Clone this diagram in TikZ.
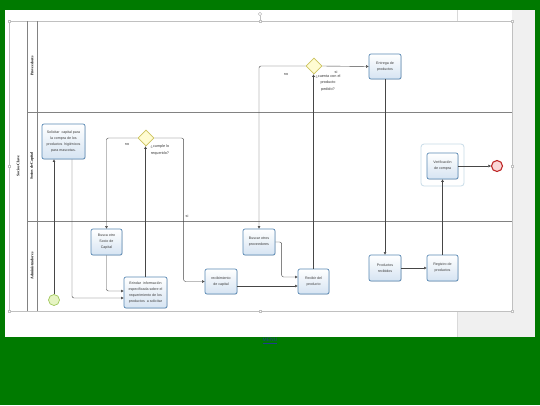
\documentclass[tikz,border=0pt]{standalone}
\usepackage{fontspec}
\setmainfont{Liberation Sans}
\newfontfamily\lanefont{Liberation Serif}
\usetikzlibrary{arrows.meta,shapes.geometric,shadows,calc}
\definecolor{bggreen}{RGB}{0,122,0}
\definecolor{pagegray}{RGB}{240,240,240}
\definecolor{selgray}{RGB}{192,192,192}
\definecolor{poolgray}{RGB}{130,130,130}
\definecolor{taskborder}{RGB}{88,136,180}
\definecolor{taskfill}{RGB}{214,228,242}
\definecolor{txt}{RGB}{60,60,60}
\definecolor{flowc}{RGB}{70,70,70}
\definecolor{gwfill}{RGB}{255,252,210}
\definecolor{gwborder}{RGB}{205,195,95}
\definecolor{startfill}{RGB}{230,244,195}
\definecolor{startborder}{RGB}{160,200,90}
\definecolor{endfill}{RGB}{250,215,215}
\definecolor{endborder}{RGB}{190,40,40}
\definecolor{halo}{RGB}{200,220,232}
\definecolor{menublue}{RGB}{30,60,140}
\tikzset{
  taskbox/.style={rectangle, rounded corners=2pt, draw=taskborder, line width=0.7pt,
    top color=white, bottom color=taskfill, align=center, text=txt,
    font=\fontsize{3.6}{6}\selectfont, inner sep=0pt,
    drop shadow={shadow xshift=0.6pt, shadow yshift=-0.6pt, opacity=0.25}},
  gateway/.style={diamond, draw=gwborder, fill=gwfill, line width=0.7pt,
    minimum width=16pt, minimum height=16pt, inner sep=0pt},
  startev/.style={circle, draw=startborder, fill=startfill, line width=0.7pt,
    minimum size=11pt, inner sep=0pt},
  endev/.style={circle, draw=endborder, fill=endfill, line width=1.1pt,
    minimum size=11pt, inner sep=0pt},
  flow/.style={draw=flowc, line width=0.4pt, rounded corners=2pt,
    -{Triangle[length=2.6pt,width=2.6pt]}},
  lbl/.style={text=txt, font=\fontsize{3.8}{6.5}\selectfont, align=center, inner sep=0pt},
  lanelbl/.style={rotate=90, text=black, font=\lanefont\bfseries\fontsize{3.8}{4.5}\selectfont, inner sep=0pt},
  handle/.style={draw=selgray, fill=white, line width=0.4pt, minimum size=2.2pt, inner sep=0pt, rectangle}
}
\begin{document}
\begin{tikzpicture}[x=1pt,y=-1pt]
\useasboundingbox (0,0) rectangle (540,405);
% background
\fill[bggreen] (0,0) rectangle (540,405);
\fill[white] (5,10) rectangle (535,337);
\fill[pagegray] (457,311) rectangle (535,337);
\fill[pagegray] (512,10) rectangle (535,311);
\draw[selgray!60, line width=0.3pt] (457,10) -- (457,21);
\draw[selgray!60, line width=0.3pt] (457,311) -- (457,337);
% pool
\fill[white] (9,21) rectangle (512,311);
\draw[selgray, line width=0.5pt] (9,21) rectangle (512,311);
\draw[poolgray, line width=0.5pt] (27,21) -- (27,311);
\draw[poolgray, line width=0.5pt] (37,21) -- (37,311);
\draw[poolgray, line width=0.5pt] (27,112) -- (512,112);
\draw[poolgray, line width=0.5pt] (27,221) -- (512,221);
\node[lanelbl] (pool) at (18,166) {Socios Clave};
\node[lanelbl] (lane1) at (32,66) {Proveedores};
\node[lanelbl] (lane2) at (32,166) {Socios de Capital};
\node[lanelbl] (lane3) at (32,266) {Administradores};
% selection handles
\draw[selgray, line width=0.4pt] (260,14) -- (260,21);
\node[circle, draw=selgray, fill=white, line width=0.4pt, minimum size=3.5pt, inner sep=0pt] (rot) at (260,14) {};
\node[handle] (h1) at (9,21) {};
\node[handle] (h2) at (260,21) {};
\node[handle] (h3) at (512,21) {};
\node[handle] (h4) at (9,166) {};
\node[handle] (h5) at (512,166) {};
\node[handle] (h6) at (9,311) {};
\node[handle] (h7) at (260,311) {};
\node[handle] (h8) at (512,311) {};
% halo around verification
\draw[halo, line width=0.8pt, rounded corners=3pt] (421,144) rectangle (464,186);
% tasks
\node[taskbox, minimum width=43pt, minimum height=35pt] (sol) at (63.5,141.5)
  {Solicitar\ \ capital para\\la compra de los\\productos\ \ higiénicos\\para mascotas.};
\node[taskbox, minimum width=31pt, minimum height=26pt] (busca) at (106.5,242)
  {Busca otro\\Socio de\\Capital};
\node[taskbox, minimum width=43pt, minimum height=31pt] (brindar) at (145.5,292.5)
  {Brindar\ \ información\\especificada sobre el\\requerimiento de los\\productos\ \ a solicitar};
\node[taskbox, minimum width=32pt, minimum height=25pt] (recib) at (221,281.5)
  {recibimiento\\de capital};
\node[taskbox, minimum width=32pt, minimum height=26pt] (bprov) at (259,242)
  {Buscar otros\\proveedores};
\node[taskbox, minimum width=31pt, minimum height=25pt] (recibir) at (313.5,281.5)
  {Recibir del\\producto};
\node[taskbox, minimum width=32pt, minimum height=25pt] (entrega) at (385,66.5)
  {Entrega de\\productos};
\node[taskbox, minimum width=32pt, minimum height=26pt] (prodrec) at (385,268)
  {Productos\\recibidos};
\node[taskbox, minimum width=31pt, minimum height=26pt] (registro) at (442.5,268)
  {Registro de\\productos};
\node[taskbox, minimum width=31pt, minimum height=26pt] (verif) at (442.5,166)
  {Verificación\\de compra};
% gateways and events
\node[gateway] (g1) at (146,138) {};
\node[gateway] (g2) at (314,66) {};
\node[startev] (start) at (54,300) {};
\node[endev] (end) at (497,166) {};
% flows
\draw[flow] (start.north) -- (start.north |- sol.south);
\draw[flow] ($(sol.south)+(8.5,0)$) |- ($(brindar.west)+(0,5.5)$);
\draw[flow] (busca.south) |- ($(brindar.west)+(0,-1.5)$);
\draw[flow] (brindar.north) -- (brindar.north |- g1.south);
\draw[flow] (g1.west) -| (busca.north);
\draw[flow] (g1.east) -| ($(recib.west)+(-21,0)$) -- (recib.west);
\draw[flow] ($(recib.east)+(0,4.5)$) -- ($(recibir.west)+(0,4.5)$);
\draw[flow] (bprov.east) -| ($(recibir.west)+(-16,-4.5)$) -- ($(recibir.west)+(0,-4.5)$);
\draw[flow] (recibir.north) -- (recibir.north |- g2.south);
\draw[flow] (g2.west) -| (bprov.north);
\draw[flow] (g2.east) -- (entrega.west);
\draw[flow] (entrega.south) -- (prodrec.north);
\draw[flow] (prodrec.east) -- (registro.west);
\draw[flow] (registro.north) -- (verif.south);
\draw[flow] (verif.east) -- (end.west);
% labels
\node[lbl] (g1txt) at (160,150) {¿cumple lo\\requerido?};
\node[lbl] (g1no) at (127,144) {no};
\node[lbl] (g1si) at (187,216) {si};
\node[lbl] (g2txt) at (328,83) {¿cuenta con el\\producto\\pedido?};
\node[lbl] (g2no) at (286,74) {no};
\node[lbl] (g2si) at (336,72) {si};
% menu link
\node[text=menublue, font=\fontsize{5}{6}\selectfont, inner sep=0pt] (menu) at (270,341) {\underline{MENU}};
\end{tikzpicture}
\end{document}
